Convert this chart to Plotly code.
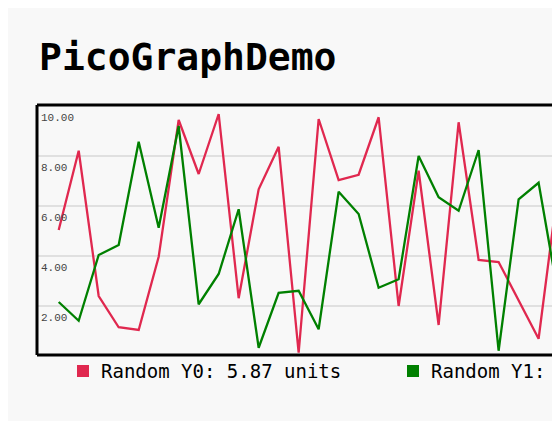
import plotly.graph_objects as go

x_idx = list(range(26))
y0 = [5.04, 8.21, 2.40, 1.15, 1.04, 3.97, 9.44, 7.28, 9.68, 2.31, 6.67, 8.37, 0.13,
      9.48, 7.04, 7.25, 9.55, 2.0, 7.41, 1.24, 9.35, 3.84, 3.76, 2.24, 0.69, 6.91]
y1 = [2.16, 1.41, 4.04, 4.44, 8.57, 5.13, 9.2, 2.07, 3.28, 5.87, 0.33, 2.53, 2.61,
      1.07, 6.57, 5.68, 2.73, 3.07, 8.0, 6.35, 5.81, 8.24, 0.21, 6.27, 6.93, 2.35]
tick_vals = [10, 8, 6, 4, 2]
tick_text = ["10.00", "8.00", "6.00", "4.00", "2.00"]
legend_labels = ["Random Y0: 5.87 units", "Random Y1: 2.35 units"]
colors = ["#e0284f", "#008000"]

MONO = "DejaVu Sans Mono"
PW, PH = 523, 250
fig = go.Figure()
fig.add_trace(go.Scatter(x=x_idx, y=y0, mode="lines", line=dict(color=colors[0], width=2.3), hoverinfo="skip"))
fig.add_trace(go.Scatter(x=x_idx, y=y1, mode="lines", line=dict(color=colors[1], width=2.3), hoverinfo="skip"))

for v, t in zip(tick_vals, tick_text):
    fig.add_annotation(x=0, xref="paper", y=v, yref="y", text=t, showarrow=False,
                       xanchor="left", yanchor="top", xshift=2, yshift=-4,
                       font=dict(family="Liberation Mono", size=11, color="#444"))

fig.add_annotation(x=0, xref="paper", y=1, yref="paper", text="<b>PicoGraphDemo</b>", showarrow=False,
                   xanchor="left", yanchor="bottom", yshift=24,
                   font=dict(family=MONO, size=38, color="black"))

for sh in [dict(x0=0, x1=1.05, y0=1, y1=1), dict(x0=0, x1=1.05, y0=0, y1=0), dict(x0=0, x1=0, y0=0, y1=1)]:
    fig.add_shape(type="line", xref="paper", yref="paper", line=dict(color="black", width=3), **sh)

for i, (lab, c) in enumerate(zip(legend_labels, colors)):
    px = 40 + i * 330
    fig.add_shape(type="rect", xref="paper", yref="paper", x0=px / PW, x1=(px + 12) / PW,
                  y0=-22 / PH, y1=-10 / PH, fillcolor=c, line=dict(width=0))
    fig.add_annotation(x=(px + 22) / PW, xref="paper", y=-16 / PH, yref="paper", text=lab,
                       showarrow=False, xanchor="left", yanchor="middle",
                       font=dict(family=MONO, size=19, color="black"))

fig.update_layout(
    width=552, height=413, margin=dict(l=29, r=0, t=97, b=66),
    paper_bgcolor="#f8f8f8", plot_bgcolor="#f8f8f8", showlegend=False,
    xaxis=dict(range=[-1.085, 25.07], visible=False),
    yaxis=dict(range=[0.04, 10.04], tickvals=[2, 4, 6, 8], showticklabels=False,
               gridcolor="#e0e0e0", gridwidth=2, zeroline=False),
)
fig.write_html("out.html")
